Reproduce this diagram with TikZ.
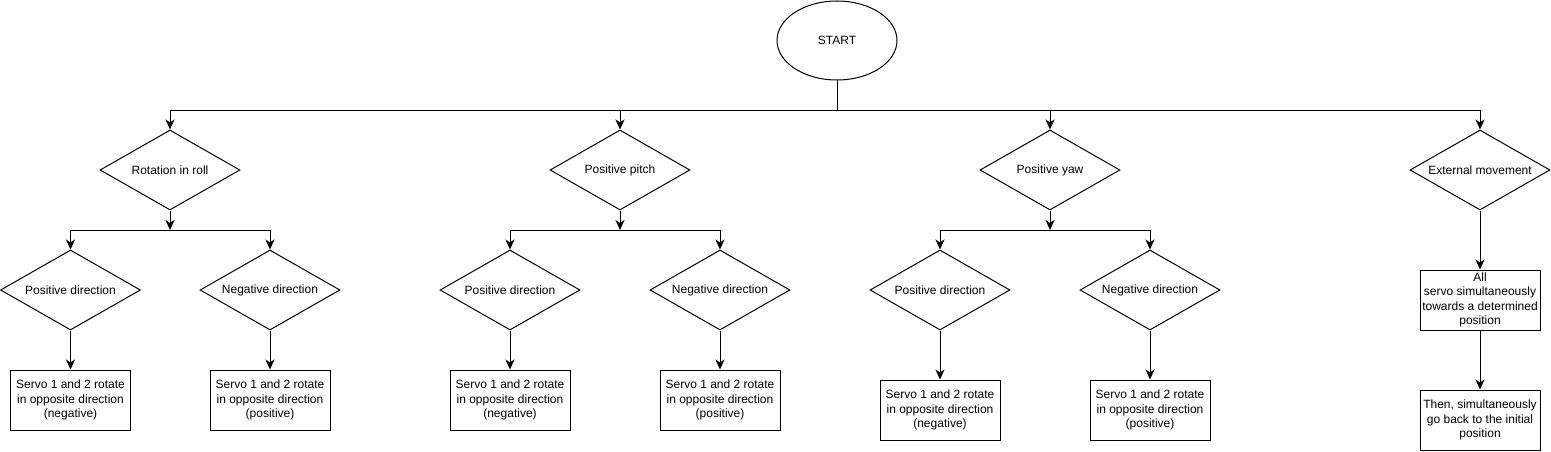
\documentclass[tikz,border=0pt]{standalone}
\usepackage{fontspec}
\setmainfont{Liberation Sans}
\usetikzlibrary{arrows.meta,shapes.geometric}

\begin{document}
\begin{tikzpicture}[x=1pt,y=-1pt,line width=1pt,
  >={Stealth[length=10pt,width=9pt,inset=3pt]},
  every node/.style={font=\fontsize{12}{14.5}\selectfont,align=center,inner sep=0pt},
  dec/.style={diamond,draw,aspect=1.75,minimum width=140pt,minimum height=80pt},
  act/.style={rectangle,draw,minimum width=120pt,minimum height=60pt},
  term/.style={ellipse,draw,minimum width=120pt,minimum height=79pt}]
\useasboundingbox (0,0) rectangle (1551,452);
% start
\node[term] (start) at (837,40.5) {START};
\coordinate (bus) at (837,110);
% first level
\node[dec] (roll) at (170,170) {Rotation in roll};
\node[dec] (pitch) at (620,170) {Positive pitch};
\node[dec] (yaw) at (1050,170) {Positive yaw};
\node[dec] (ext) at (1480,170) {External movement};
% roll
\coordinate (roll-bus) at (170,230);
\node[dec] (roll-pos) at (70.5,290) {Positive direction};
\node[dec] (roll-neg) at (270,290) {Negative direction};
\node[act] (roll-pos-act) at (70.5,400) {Servo 1 and 2 rotate\\in opposite direction\\(negative)};
\node[act] (roll-neg-act) at (270,400) {Servo 1 and 2 rotate\\in opposite direction\\(positive)};
% pitch
\coordinate (pitch-bus) at (620,230);
\node[dec] (pitch-pos) at (510,290) {Positive direction};
\node[dec] (pitch-neg) at (720,290) {Negative direction};
\node[act] (pitch-pos-act) at (510,400) {Servo 1 and 2 rotate\\in opposite direction\\(negative)};
\node[act] (pitch-neg-act) at (720,400) {Servo 1 and 2 rotate\\in opposite direction\\(positive)};
% yaw
\coordinate (yaw-bus) at (1050,230);
\node[dec] (yaw-pos) at (940,290) {Positive direction};
\node[dec] (yaw-neg) at (1150,290) {Negative direction};
\node[act] (yaw-pos-act) at (940,410) {Servo 1 and 2 rotate\\in opposite direction\\(negative)};
\node[act] (yaw-neg-act) at (1150,410) {Servo 1 and 2 rotate\\in opposite direction\\(positive)};
% external movement
\node[act] (ext-act) at (1480,300) {All\\servo simultaneously\\towards a determined\\position};
\node[act] (ext-back) at (1480,420) {Then, simultaneously\\go back to the initial\\position};
% connectors
\draw (start) -- (bus);
\foreach \n in {roll,pitch,yaw,ext}
  \draw[->] (bus) -| (\n.north);
\foreach \n in {roll,pitch,yaw} {
  \draw[->] (\n.south) -- (\n-bus);
  \draw[->] (\n-bus) -| (\n-pos.north);
  \draw[->] (\n-bus) -| (\n-neg.north);
  \draw[->] (\n-pos) -- (\n-pos-act);
  \draw[->] (\n-neg) -- (\n-neg-act);
}
\draw[->] (ext) -- (ext-act);
\draw[->] (ext-act) -- (ext-back);
\end{tikzpicture}
\end{document}
